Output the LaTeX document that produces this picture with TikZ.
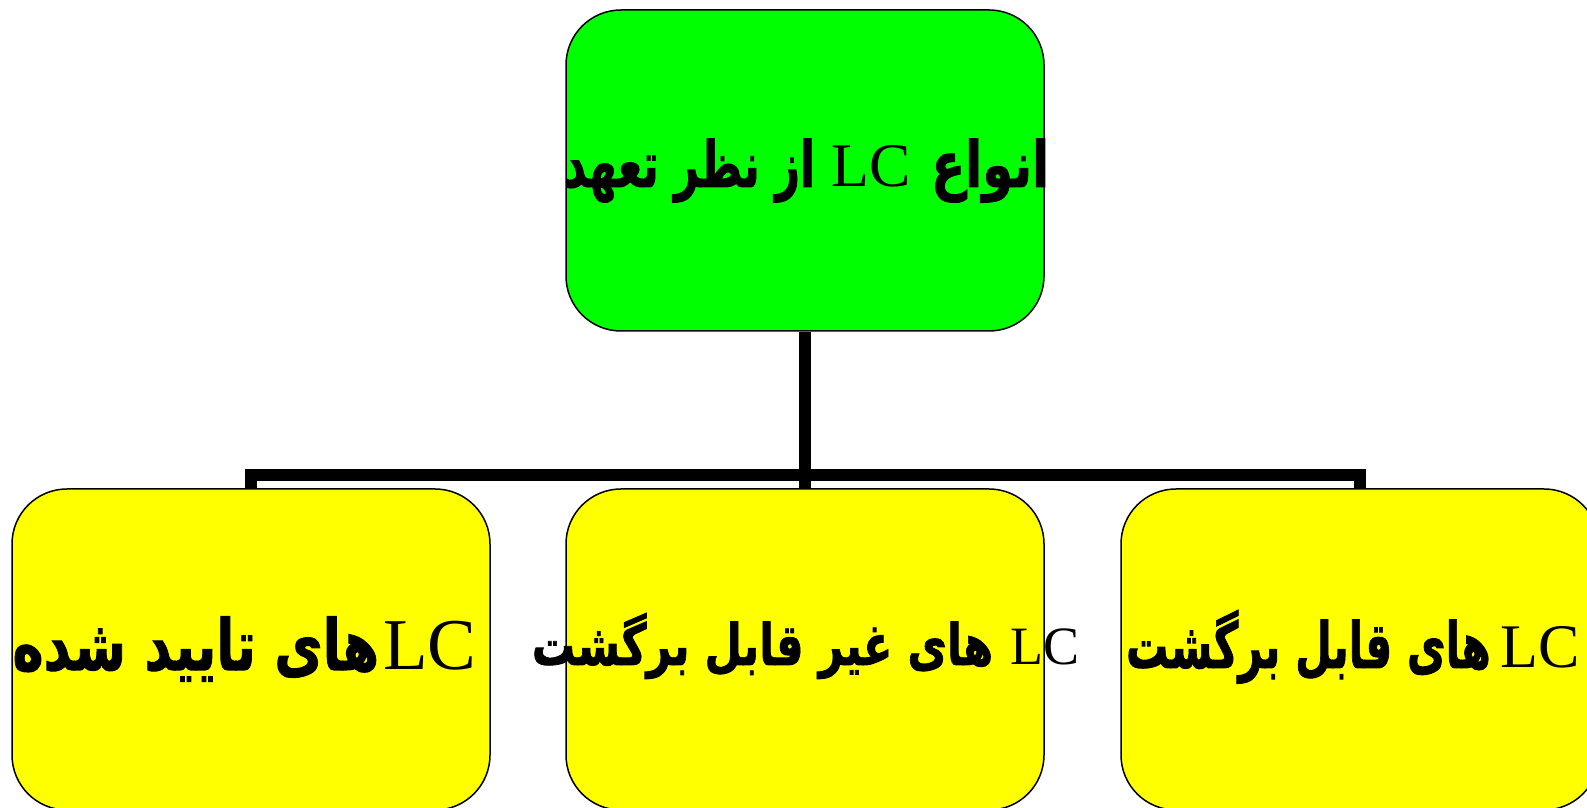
\documentclass[tikz,border=0pt]{standalone}
\usepackage{fontspec}
\usepackage{graphicx}
\TeXXeTstate=1
\newfontfamily\arabicfont[Script=Arabic,FakeBold=1.5]{DejaVu Sans Bold}
\newfontfamily\latinserif{Liberation Serif}
% \lcw[size]  : the Latin "LC"
\newcommand{\lcw}[1][62]{{\latinserif\fontsize{#1}{#1}\selectfont LC}}
% \arw{xscale}{yscale}{text} : a Persian segment
\newcommand{\arw}[3]{\scalebox{#1}[#2]{\arabicfont\fontsize{44}{50}\selectfont #3}}
\definecolor{boxgreen}{HTML}{00FF00}
\definecolor{boxyellow}{HTML}{FFFF00}
\tikzset{
  box/.style={draw=black, line width=1.5pt, rounded corners=55pt,
    minimum width=478pt, minimum height=321pt, inner sep=0pt},
  greenbox/.style={box, fill=boxgreen},
  yellowbox/.style={box, fill=boxyellow},
  label text/.style={inner sep=0pt, anchor=base},
  conn/.style={draw=black, line width=12pt, line join=miter, line cap=butt}
}
\begin{document}
\begin{tikzpicture}[x=1pt,y=1pt]
\useasboundingbox (0,0) rectangle (1587,808);
% boxes (y measured upward: y = 808 - pixel row)
\node[greenbox]  (top) at (805,637.5) {};
\node[yellowbox] (bl)  at (251,158.5) {};
\node[yellowbox] (bm)  at (805,158.5) {};
\node[yellowbox] (br)  at (1360,158.5) {};
\coordinate (bus) at (805,333);
% connectors
\draw[conn] (top.south) -- (bm.north);
\draw[conn] (bl.north) -- (bl.north |- bus) -- (br.north |- bus) -- (br.north);
% texts (segments placed left to right as they appear)
\node[label text] (ttop) at ([xshift=1.5pt]top.center |- 0,621)
  {\arw{0.99}{1.45}{\beginR از نظر تعهد\endR}\hspace{17pt}\lcw[62]\hspace{20pt}\arw{1.13}{1.45}{\beginR انواع\endR}};
\node[label text] (tbl) at ([xshift=-6.5pt]bl.center |- 0,138)
  {\arw{1.2}{1.6}{\beginR های تایید شده\endR}\hspace{4pt}\lcw[73]};
\node[label text] (tbm) at ([xshift=0.5pt]bm.center |- 0,143)
  {\arw{0.98}{1.3}{\beginR های غیر قابل برگشت\endR}\hspace{17pt}\lcw[54]};
\node[label text] (tbr) at ([xshift=-7pt]br.center |- 0,140)
  {\arw{0.96}{1.45}{\beginR های قابل برگشت\endR}\hspace{10pt}\lcw[62]};
\end{tikzpicture}
\end{document}
